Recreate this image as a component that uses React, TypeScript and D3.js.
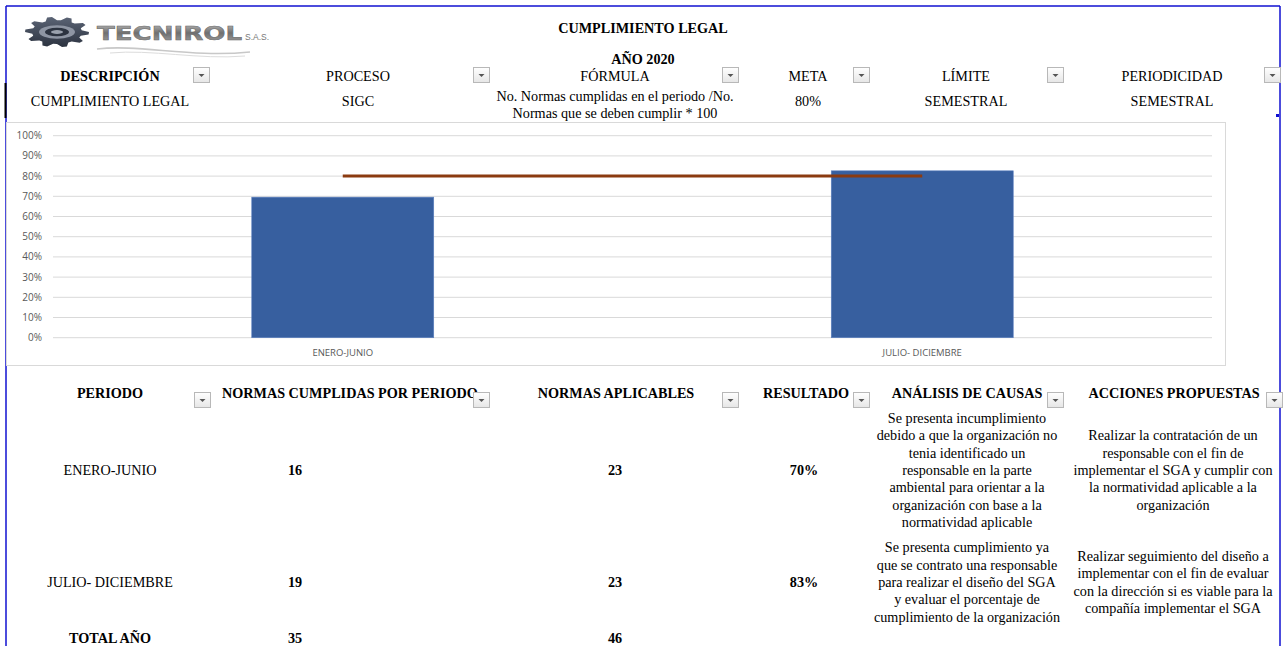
import * as d3 from "d3";

// ---- data ----
const periods = ["ENERO-JUNIO", "JULIO- DICIEMBRE"];
const cumplidas = [16, 19];
const aplicables = [23, 23];
const resultado = [0.6957, 0.8261];
const meta = [0.8, 0.8];
const resultadoLabels = ["70%", "83%"];
const totalCumplidas = 35;
const totalAplicables = 46;
const yTicks = [0, 0.1, 0.2, 0.3, 0.4, 0.5, 0.6, 0.7, 0.8, 0.9, 1];

const topHeaders = ["DESCRIPCIÓN", "PROCESO", "FÓRMULA", "META", "LÍMITE", "PERIODICIDAD"];
const topValues = [["CUMPLIMIENTO LEGAL"], ["SIGC"], ["No. Normas cumplidas en el periodo /No.", "Normas que se deben cumplir * 100"], ["80%"], ["SEMESTRAL"], ["SEMESTRAL"]];

const tableHeaders = ["PERIODO", "NORMAS CUMPLIDAS POR PERIODO", "NORMAS APLICABLES", "RESULTADO", "ANÁLISIS DE CAUSAS", "ACCIONES PROPUESTAS"];
const analisis = [
  ["Se presenta incumplimiento", "debido a que la organización no", "tenia identificado un", "responsable en la parte", "ambiental para orientar a la", "organización con base a la", "normatividad aplicable"],
  ["Se presenta cumplimiento ya", "que se contrato una responsable", "para realizar el diseño del SGA", "y evaluar el porcentaje de", "cumplimiento de la organización"],
];
const acciones = [
  ["Realizar la contratación de un", "responsable con el fin de", "implementar el SGA y cumplir con", "la normatividad aplicable a la", "organización"],
  ["Realizar seguimiento del diseño a", "implementar con el fin de evaluar", "con la dirección si es viable para la", "compañía implementar el SGA"],
];

// ---- layout ----
const W = 1287;
const H = 646;
const serifStyle = { fontFamily: "'Liberation Serif', 'DejaVu Serif', serif" };
const fs = 14.2;
const sans = "Open Sans, Liberation Sans, sans-serif";
const topCx = [110, 358, 615, 808, 966, 1172];
const topDrop = [193, 473, 722, 853, 1047, 1264];
const tblDrop = [194, 473, 722, 853, 1047, 1266];
const rowCx = [110, 295, 615, 804];
const rowY = [470, 582];
const lineH = 17.4;

const plot = { left: 53, right: 1212, top: 135.7, bottom: 337.7 };
const x = d3.scaleBand<string>().domain(periods).range([plot.left, plot.right]).padding(0);
const y = d3.scaleLinear().domain([0, 1]).range([plot.bottom, plot.top]);
const barW = x.bandwidth() * 0.314;
const metaLine = d3
  .line<number>()
  .x((_, i) => (x(periods[i]) ?? 0) + x.bandwidth() / 2)
  .y((d) => y(d));

function Drop({ x0, y0 }: { x0: number; y0: number }) {
  return (
    <g transform={`translate(${x0},${y0})`}>
      <rect x={0.5} y={0.5} width={16} height={15} fill="url(#dropGrad)" stroke="#b8b8b8" />
      <path d="M5.5,7 L11.5,7 L8.5,10 Z" fill="#555" />
    </g>
  );
}

function gearPath() {
  const teeth = 10;
  const pts: [number, number][] = [];
  for (let i = 0; i < teeth * 4; i++) {
    const a = (i / (teeth * 4)) * Math.PI * 2;
    const r = i % 4 < 2 ? 16 : 12.5;
    pts.push([Math.cos(a) * r, Math.sin(a) * r]);
  }
  return d3.line()(pts) + "Z";
}

export default function App() {
  return (
    <div style={{ position: "absolute", left: 0, top: 0 }}>
      <svg width={W} height={H} style={{ display: "block", background: "#fff" }}>
        <defs>
          <linearGradient id="dropGrad" x1="0" y1="0" x2="0" y2="1">
            <stop offset="0" stopColor="#ffffff" />
            <stop offset="1" stopColor="#e6e6e6" />
          </linearGradient>
          <linearGradient id="logoGrad" x1="0" y1="0" x2="0" y2="1">
            <stop offset="0" stopColor="#c4c4c4" />
            <stop offset="0.5" stopColor="#6f6f6f" />
            <stop offset="1" stopColor="#a5a5a5" />
          </linearGradient>
          <linearGradient id="gearGrad" x1="0" y1="0" x2="0" y2="1">
            <stop offset="0" stopColor="#5b6475" />
            <stop offset="1" stopColor="#2c3340" />
          </linearGradient>
        </defs>

        {/* sheet borders */}
        <line x1={6} y1={6} x2={1280} y2={6} stroke="#1010d0" strokeWidth={1.5} />
        <line x1={6} y1={6} x2={6} y2={H} stroke="#1010d0" strokeWidth={1.5} />
        <line x1={1280} y1={6} x2={1280} y2={H} stroke="#1010d0" strokeWidth={1.5} />
        <line x1={5.5} y1={83} x2={5.5} y2={118} stroke="#000" strokeWidth={2} />
        <rect x={1276} y={114} width={3} height={3} fill="#1010d0" />

        {/* logo */}
        <g transform="translate(57,32) scale(2,0.95)">
          <path d={gearPath()} fill="url(#gearGrad)" />
          <ellipse cx={0} cy={0} rx={9} ry={7} fill="#8e95a3" />
          <ellipse cx={0} cy={0} rx={6} ry={4.5} fill="#2c3340" />
          <ellipse cx={0} cy={0} rx={3} ry={2} fill="#9aa1ad" />
        </g>
        <text x={97} y={40} fontFamily="DejaVu Sans, sans-serif" fontWeight="bold" fontSize={19} fill="url(#logoGrad)" stroke="#6a6a6a" strokeWidth={0.5} textLength={145} lengthAdjust="spacingAndGlyphs">TECNIROL</text>
        <text x={245} y={40} fontFamily="Liberation Sans, sans-serif" fontSize={8.5} fill="#777">S.A.S.</text>
        <path d="M97,49 C140,44 190,58 250,52" fill="none" stroke="#c8c8c8" strokeWidth={1.6} />
        <path d="M110,53 C150,49 200,60 245,56" fill="none" stroke="#dcdcdc" strokeWidth={1} />

        <g style={serifStyle} fontSize={fs}>
          {/* titles */}
          <text x={643} y={33} textAnchor="middle" fontWeight="bold">CUMPLIMIENTO LEGAL</text>
          <text x={643} y={64} textAnchor="middle" fontWeight="bold">AÑO 2020</text>

          {/* top info table */}
          {topHeaders.map((h, i) => (
            <g key={h}>
              <text x={topCx[i]} y={81} textAnchor="middle" fontWeight={i === 0 ? "bold" : "normal"}>{h}</text>
              {topValues[i].map((v, j) => (
                <text key={j} x={topCx[i]} y={topValues[i].length > 1 ? 101 + j * 16.5 : 106} textAnchor="middle">{v}</text>
              ))}
            </g>
          ))}

          {/* lower table */}
          <g fontWeight="bold">
            <text x={110} y={398} textAnchor="middle">{tableHeaders[0]}</text>
            <text x={222} y={398}>{tableHeaders[1]}</text>
            <text x={616} y={398} textAnchor="middle">{tableHeaders[2]}</text>
            <text x={806} y={398} textAnchor="middle">{tableHeaders[3]}</text>
            <text x={967} y={398} textAnchor="middle">{tableHeaders[4]}</text>
            <text x={1174} y={398} textAnchor="middle">{tableHeaders[5]}</text>
          </g>

          {periods.map((p, i) => (
            <g key={p} textAnchor="middle">
              <text x={rowCx[0]} y={rowY[i] + 5}>{p}</text>
              <text x={rowCx[1]} y={rowY[i] + 5} fontWeight="bold">{cumplidas[i]}</text>
              <text x={rowCx[2]} y={rowY[i] + 5} fontWeight="bold">{aplicables[i]}</text>
              <text x={rowCx[3]} y={rowY[i] + 5} fontWeight="bold">{resultadoLabels[i]}</text>
              {analisis[i].map((l, j) => (
                <text key={"a" + j} x={967} y={rowY[i] + 5 + (j - (analisis[i].length - 1) / 2) * lineH}>{l}</text>
              ))}
              {acciones[i].map((l, j) => (
                <text key={"c" + j} x={1173} y={rowY[i] + 5 + (j - (acciones[i].length - 1) / 2) * lineH}>{l}</text>
              ))}
            </g>
          ))}
          <g textAnchor="middle" fontWeight="bold">
            <text x={rowCx[0]} y={643}>TOTAL AÑO</text>
            <text x={rowCx[1]} y={643}>{totalCumplidas}</text>
            <text x={rowCx[2]} y={643}>{totalAplicables}</text>
          </g>
        </g>

        {topDrop.map((dx, i) => (
          <Drop key={"t" + i} x0={dx} y0={67} />
        ))}

        {/* chart */}
        <rect x={6.5} y={122.5} width={1219} height={243} fill="#fff" stroke="#d9d9d9" />
        {yTicks.map((t) => (
          <g key={t}>
            <line x1={plot.left} x2={plot.right} y1={y(t)} y2={y(t)} stroke="#d9d9d9" strokeWidth={1} />
            <text x={42} y={y(t) + 3.5} textAnchor="end" fontFamily={sans} fontSize={10} fill="#595959">{d3.format(".0%")(t)}</text>
          </g>
        ))}
        {periods.map((p, i) => (
          <rect key={p} x={(x(p) ?? 0) + x.bandwidth() / 2 - barW / 2} y={y(resultado[i])} width={barW} height={y(0) - y(resultado[i])} fill="#375f9f" stroke="#5a7fbf" strokeWidth={0.6} />
        ))}
        <path d={metaLine(meta) ?? ""} fill="none" stroke="#8b3b10" strokeWidth={3} />
        {periods.map((p) => (
          <text key={p} x={(x(p) ?? 0) + x.bandwidth() / 2} y={356} textAnchor="middle" fontFamily={sans} fontSize={9.5} fill="#595959">{p}</text>
        ))}

        {tblDrop.map((dx, i) => (
          <Drop key={i} x0={dx} y0={392} />
        ))}
      </svg>
    </div>
  );
}
